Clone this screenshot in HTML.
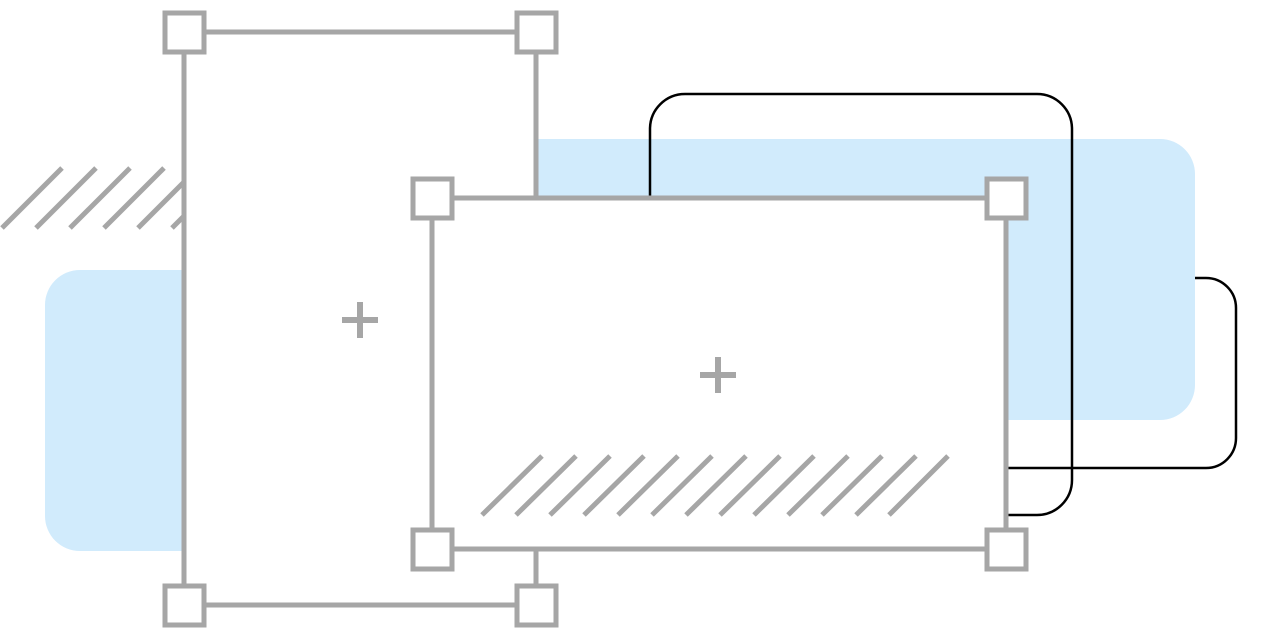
<!DOCTYPE html>
<html><head><meta charset="utf-8"><style>html,body{margin:0;padding:0;background:#fff;}svg{display:block}</style></head>
<body>
<svg width="1261" height="640" viewBox="0 0 1261 640" xmlns="http://www.w3.org/2000/svg">
<rect x="45" y="270" width="200" height="281" rx="35" fill="#d1ebfc"/>
<rect x="500" y="139" width="695" height="281" rx="35" fill="#d1ebfc"/>
<path d="M1195 278 H1206 A30 30 0 0 1 1236 308 V438 A30 30 0 0 1 1206 468 H980" fill="none" stroke="#000" stroke-width="2.5"/>
<rect x="650" y="94" width="422" height="421" rx="35" fill="none" stroke="#000" stroke-width="2.5"/>
<g stroke="#a6a6a6" stroke-width="5">
<line x1="2" y1="228" x2="62" y2="168"/><line x1="36" y1="228" x2="96" y2="168"/><line x1="70" y1="228" x2="130" y2="168"/><line x1="104" y1="228" x2="164" y2="168"/><line x1="138" y1="228" x2="198" y2="168"/><line x1="172" y1="228" x2="232" y2="168"/>
</g>
<rect x="184" y="32" width="352" height="573" fill="#fff" stroke="#a6a6a6" stroke-width="5"/>
<g stroke="#a6a6a6" stroke-width="5" fill="#fff">
<rect x="165" y="13" width="39" height="39"/><rect x="517" y="13" width="39" height="39"/>
<rect x="165" y="586" width="39" height="39"/><rect x="517" y="586" width="39" height="39"/>
</g>
<path d="M342 320 H378 M360 302 V338" stroke="#a6a6a6" stroke-width="6"/>
<rect x="432" y="198" width="574" height="351" fill="#fff" stroke="#a6a6a6" stroke-width="5"/>
<g stroke="#a6a6a6" stroke-width="5">
<line x1="482" y1="515" x2="542" y2="456"/><line x1="516" y1="515" x2="576" y2="456"/><line x1="550" y1="515" x2="610" y2="456"/><line x1="584" y1="515" x2="644" y2="456"/><line x1="618" y1="515" x2="678" y2="456"/><line x1="652" y1="515" x2="712" y2="456"/><line x1="686" y1="515" x2="746" y2="456"/><line x1="720" y1="515" x2="780" y2="456"/><line x1="754" y1="515" x2="814" y2="456"/><line x1="788" y1="515" x2="848" y2="456"/><line x1="822" y1="515" x2="882" y2="456"/><line x1="856" y1="515" x2="916" y2="456"/><line x1="889" y1="515" x2="948" y2="456"/>
</g>
<g stroke="#a6a6a6" stroke-width="5" fill="#fff">
<rect x="413" y="179" width="39" height="39"/><rect x="987" y="179" width="39" height="39"/>
<rect x="413" y="530" width="39" height="39"/><rect x="987" y="530" width="39" height="39"/>
</g>
<path d="M700 375 H736 M718 357 V393" stroke="#a6a6a6" stroke-width="6"/>
</svg>
</body></html>
